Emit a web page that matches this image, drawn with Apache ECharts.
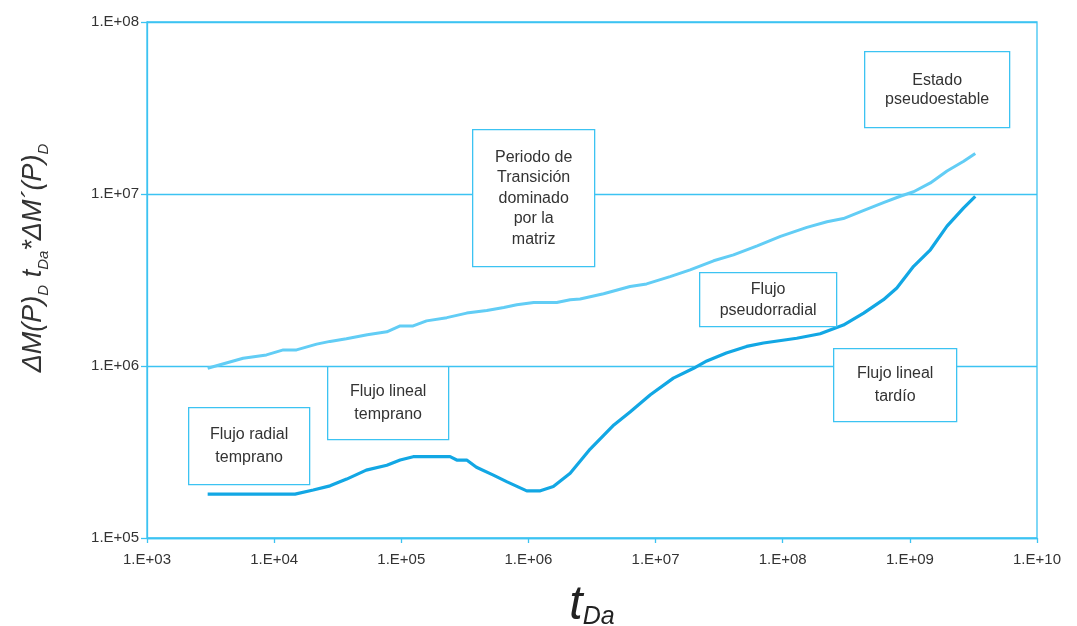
<!DOCTYPE html>
<html lang="es">
<head>
    <meta charset="utf-8">
    <title>tDa vs ΔM(P)D</title>
    <script src="https://cdn.jsdelivr.net/npm/echarts@6/dist/echarts.min.js"></script>
    <style>
        html, body { margin: 0; padding: 0; background: #fff; }
        #chart { width: 1077px; height: 626px; }
    </style>
</head>
<body>
    <div id="chart"></div>
    <script type="text/javascript">
        // curva superior (celeste claro)
        var tLight = [3.0e3, 5.7e3, 8.7e3, 1.18e4, 1.5e4, 2.16e4, 2.75e4, 3.7e4, 5.4e4, 7.7e4, 9.8e4, 1.24e5, 1.58e5,
            2.28e5, 3.27e5, 4.7e5, 6.4e5, 8.1e5, 1.1e6, 1.67e6, 2.13e6, 2.55e6, 3.9e6, 6.3e6, 8.5e6, 1.3e7, 1.87e7,
            2.86e7, 4.1e7, 6.3e7, 9.6e7, 1.55e8, 2.23e8, 3.0e8, 4.3e8, 6.2e8, 8.4e8, 1.07e9, 1.45e9, 1.96e9, 2.65e9, 3.27e9];
        var mLight = [9.7e5, 1.11e6, 1.16e6, 1.24e6, 1.24e6, 1.34e6, 1.39e6, 1.44e6, 1.52e6, 1.58e6, 1.71e6, 1.71e6, 1.83e6,
            1.91e6, 2.03e6, 2.1e6, 2.19e6, 2.27e6, 2.34e6, 2.34e6, 2.43e6, 2.45e6, 2.63e6, 2.9e6, 3.0e6, 3.31e6, 3.62e6,
            4.09e6, 4.43e6, 5.0e6, 5.67e6, 6.4e6, 6.9e6, 7.2e6, 8.0e6, 8.9e6, 9.7e6, 1.03e7, 1.16e7, 1.36e7, 1.55e7, 1.72e7];

        // curva inferior (azul)
        var tDark = [3.0e3, 1.46e4, 2.03e4, 2.75e4, 3.72e4, 5.3e4, 7.7e4, 9.8e4, 1.24e5, 2.42e5, 2.73e5, 3.27e5, 3.9e5,
            5.3e5, 6.8e5, 9.7e5, 1.24e6, 1.57e6, 2.13e6, 3.06e6, 4.7e6, 6.3e6, 9.1e6, 1.38e7, 1.99e7, 2.53e7, 3.6e7,
            5.2e7, 7.06e7, 1.29e8, 1.97e8, 3.0e8, 4.33e8, 6.2e8, 7.9e8, 1.07e9, 1.45e9, 1.96e9, 2.65e9, 3.27e9];
        var mDark = [1.8e5, 1.8e5, 1.9e5, 2.01e5, 2.2e5, 2.48e5, 2.65e5, 2.84e5, 2.97e5, 2.97e5, 2.84e5, 2.84e5, 2.58e5,
            2.32e5, 2.12e5, 1.88e5, 1.88e5, 1.99e5, 2.38e5, 3.29e5, 4.54e5, 5.4e5, 6.8e5, 8.5e5, 9.7e5, 1.07e6, 1.19e6,
            1.3e6, 1.36e6, 1.45e6, 1.54e6, 1.73e6, 2.03e6, 2.43e6, 2.84e6, 3.8e6, 4.74e6, 6.5e6, 8.3e6, 9.7e6];

        // cuadros de texto
        var notes = [
            { text: "Flujo radial\ntemprano", box: [188, 407, 121, 77], lh: 23 },
            { text: "Flujo lineal\ntemprano", box: [327, 366, 121, 73], lh: 23 },
            { text: "Periodo de\nTransición\ndominado\npor la\nmatriz", box: [472, 129, 122, 137], lh: 20.5 },
            { text: "Flujo\npseudorradial", box: [699, 272, 137, 54], lh: 21 },
            { text: "Estado\npseudoestable", box: [864, 51, 145, 76], lh: 19 },
            { text: "Flujo lineal\ntardío", box: [833, 348, 123, 73], lh: 23 }
        ];

        var blueLine = "#3cc3f2";
        var font = "Liberation Sans, Arial, sans-serif";

        function expLabel(v) {
            var e = Math.round(Math.log10(v));
            return "1.E+" + (e < 10 ? "0" + e : e);
        }

        function pairs(xs, ys) {
            return xs.map(function (x, i) { return [x, ys[i]]; });
        }

        var graphics = notes.map(function (n) {
            return {
                type: "group",
                left: n.box[0],
                top: n.box[1],
                z: 50,
                children: [{
                    type: "rect",
                    z: 50,
                    shape: { x: 0, y: 0, width: n.box[2], height: n.box[3] },
                    style: { fill: "#fff", stroke: blueLine, lineWidth: 1.3 }
                }, {
                    type: "text",
                    z: 51,
                    x: n.box[2] / 2,
                    y: n.box[3] / 2,
                    style: {
                        text: n.text,
                        fill: "#333",
                        font: "16px " + font,
                        lineHeight: n.lh,
                        align: "center",
                        verticalAlign: "middle"
                    }
                }]
            };
        });

        var mychart = echarts.init(document.getElementById("chart"));
        var option = {
            backgroundColor: "#fff",
            animation: false,
            grid: {
                show: true,
                left: 147,
                top: 22,
                right: 40,
                bottom: 88,
                outerBoundsMode: "none",
                borderColor: blueLine,
                borderWidth: 1.3,
                containLabel: false
            },
            xAxis: {
                type: "log",
                logBase: 10,
                min: 1e3,
                max: 1e10,
                name: "{t|t}{s|Da}",
                nameLocation: "middle",
                nameGap: 44,
                nameTextStyle: {
                    rich: {
                        t: { fontFamily: font, fontStyle: "italic", fontSize: 48, color: "#222", lineHeight: 48 },
                        s: { fontFamily: font, fontStyle: "italic", fontSize: 25, color: "#222", verticalAlign: "bottom", lineHeight: 32 }
                    }
                },
                axisLine: { lineStyle: { color: blueLine, width: 1.3 } },
                axisTick: { show: true, inside: false, length: 5, lineStyle: { color: blueLine, width: 1.3 } },
                minorTick: { show: false },
                splitLine: { show: false },
                axisLabel: {
                    color: "#333",
                    fontFamily: font,
                    fontSize: 15,
                    margin: 14,
                    formatter: expLabel
                }
            },
            yAxis: {
                type: "log",
                logBase: 10,
                min: 1e5,
                max: 1e8,
                name: "{i|ΔM(P)}{s|D}{i| t}{s|Da}{i|*ΔM´(P)}{s|D}",
                nameLocation: "middle",
                nameRotate: 90,
                nameGap: 96,
                nameTextStyle: {
                    padding: [0, 0, 0, 44],
                    rich: {
                        i: { fontFamily: font, fontStyle: "italic", fontSize: 27, color: "#333", lineHeight: 32 },
                        s: { fontFamily: font, fontStyle: "italic", fontSize: 15, color: "#333", verticalAlign: "bottom", lineHeight: 36 }
                    }
                },
                axisLine: { lineStyle: { color: blueLine, width: 1.3 } },
                axisTick: { show: true, inside: false, length: 6, lineStyle: { color: blueLine, width: 1.3 } },
                minorTick: { show: false },
                splitLine: { show: true, lineStyle: { color: blueLine, width: 1.3 } },
                axisLabel: {
                    color: "#333",
                    fontFamily: font,
                    fontSize: 15,
                    margin: 8,
                    formatter: expLabel
                }
            },
            series: [{
                type: "line",
                name: "superior",
                data: pairs(tLight, mLight),
                showSymbol: false,
                lineStyle: { color: "#62cdf5", width: 3 },
                z: 3
            }, {
                type: "line",
                name: "inferior",
                data: pairs(tDark, mDark),
                showSymbol: false,
                lineStyle: { color: "#12a7e4", width: 3.2 },
                z: 4
            }],
            graphic: graphics
        };
        mychart.setOption(option);
    </script>
</body>
</html>
